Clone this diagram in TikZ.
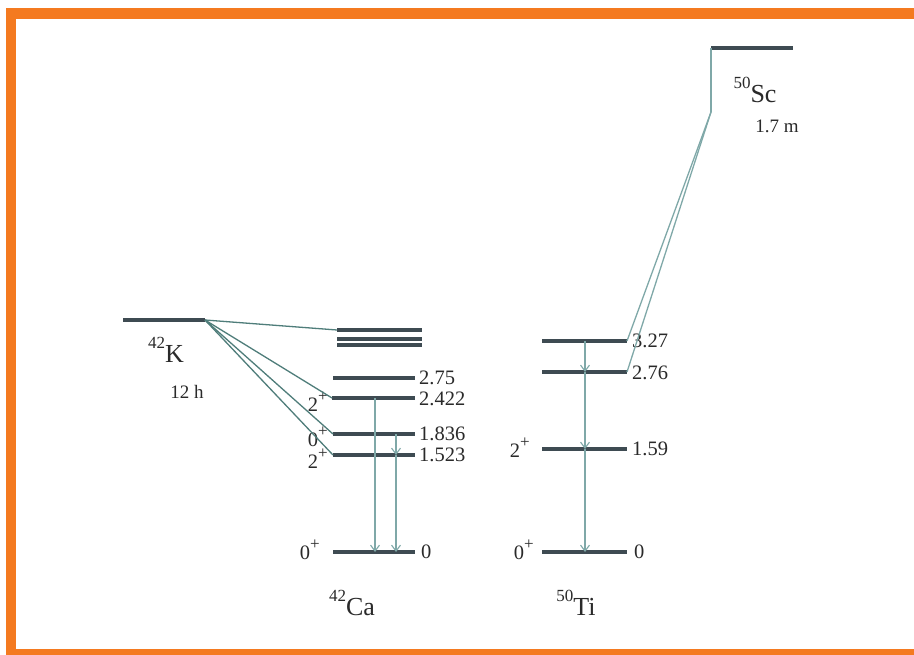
\documentclass[tikz,border=0pt]{standalone}
\usepackage{fontspec}
\setmainfont{Liberation Serif}
\usetikzlibrary{arrows.meta}
\definecolor{frame}{HTML}{F47A20}
\definecolor{lev}{HTML}{3E4B52}
\definecolor{gam}{HTML}{7FA8A8}
\definecolor{feed}{HTML}{4F7D7A}
\definecolor{ink}{HTML}{2A2A2A}
\newcommand{\sps}[1]{\raisebox{0.55em}{\fontsize{17}{17}\selectfont #1}}
\newcommand{\spp}{\raisebox{0.5em}{\fontsize{17}{17}\selectfont +}}
\tikzset{
  level/.style={draw=lev, line width=3.3pt},
  gamma/.style={draw=gam, line width=1.1pt, -{Straight Barb[length=6pt,width=9pt,line width=1.1pt]}},
  gline/.style={draw=gam, line width=1.1pt},
  feedline/.style={draw=feed, line width=1.3pt},
  elab/.style={anchor=west, text=ink, font=\fontsize{20.5}{20.5}\selectfont, inner sep=0pt},
  spin/.style={anchor=east, text=ink, font=\fontsize{20.5}{20.5}\selectfont, inner sep=0pt},
  nuc/.style={text=ink, font=\fontsize{26}{26}\selectfont, inner sep=0pt},
  life/.style={text=ink, font=\fontsize{19}{19}\selectfont, inner sep=0pt}
}
\begin{document}
\begin{tikzpicture}[x=1pt,y=-1pt]
\useasboundingbox (0,0) rectangle (914,655);
\fill[white] (0,0) rectangle (914,655);
% frame
\fill[frame] (6,8) rectangle (914,19);
\fill[frame] (6,8) rectangle (16,655);
\fill[frame] (6,649) rectangle (914,655);

% ---------- 42K ----------
\coordinate (kL) at (123,320);
\coordinate (kR) at (205,320);
\draw[level] (kL) -- (kR);
\node[nuc] (klab) at (166,350) {\sps{42}K};
\node[life] (kt) at (187,392) {12 h};

% ---------- 42Ca ----------
\coordinate (caA1L) at (337,330); \coordinate (caA1R) at (422,330);
\coordinate (caA2L) at (337,339); \coordinate (caA2R) at (422,339);
\coordinate (caA3L) at (337,345); \coordinate (caA3R) at (422,345);
\coordinate (ca275L) at (333,378); \coordinate (ca275R) at (415,378);
\coordinate (ca2422L) at (332,398); \coordinate (ca2422R) at (415,398);
\coordinate (ca1836L) at (333,434); \coordinate (ca1836R) at (415,434);
\coordinate (ca1523L) at (333,455); \coordinate (ca1523R) at (415,455);
\coordinate (ca0L) at (333,552); \coordinate (ca0R) at (415,552);
\foreach \a in {caA1,caA2,caA3,ca275,ca2422,ca1836,ca1523,ca0}
  \draw[level] (\a L) -- (\a R);

\node[elab] (e275) at (419,378) {2.75};
\node[elab] (e2422) at (419,399) {2.422};
\node[elab] (e1836) at (419,434) {1.836};
\node[elab] (e1523) at (419,455) {1.523};
\node[elab] (e0ca) at (421,552) {0};

\node[spin] (s2422) at (328,402) {2\spp};
\node[spin] (s1836) at (328,437) {0\spp};
\node[spin] (s1523) at (328,459) {2\spp};
\node[spin] (s0ca) at (320,550) {0\spp};

\node[nuc] (calab) at (352,603) {\sps{42}Ca};

% feeding from 42K
\draw[feedline] (kR) -- (caA1L);
\draw[feedline] (kR) -- (ca2422L);
\draw[feedline] (kR) -- (ca1836L);
\draw[feedline] (kR) -- (ca1523L);

% gammas in 42Ca
\coordinate (g1t) at (375,398); \coordinate (g1b) at (375,552);
\coordinate (g2t) at (396,434); \coordinate (g2m) at (396,455); \coordinate (g2b) at (396,552);
\draw[gamma] (g1t) -- (g1b);
\draw[gamma] (g2t) -- (g2m);
\draw[gamma] (g2m) -- (g2b);

% ---------- 50Ti ----------
\coordinate (ti327L) at (542,341); \coordinate (ti327R) at (627,341);
\coordinate (ti276L) at (542,372); \coordinate (ti276R) at (627,372);
\coordinate (ti159L) at (542,449); \coordinate (ti159R) at (627,449);
\coordinate (ti0L) at (542,552); \coordinate (ti0R) at (627,552);
\foreach \a in {ti327,ti276,ti159,ti0}
  \draw[level] (\a L) -- (\a R);

\node[elab] (e327) at (632,341) {3.27};
\node[elab] (e276) at (632,373) {2.76};
\node[elab] (e159) at (632,449) {1.59};
\node[elab] (e0ti) at (634,552) {0};

\node[spin] (s159) at (530,448) {2\spp};
\node[spin] (s0ti) at (534,550) {0\spp};

\node[nuc] (tilab) at (576,603) {\sps{50}Ti};

% gammas in 50Ti
\coordinate (t1) at (585,341); \coordinate (t2) at (585,372);
\coordinate (t3) at (585,449); \coordinate (t4) at (585,552);
\draw[gamma] (t1) -- (t2);
\draw[gamma] (t2) -- (t3);
\draw[gamma] (t3) -- (t4);

% ---------- 50Sc ----------
\coordinate (scL) at (711,48); \coordinate (scR) at (793,48);
\draw[level] (scL) -- (scR);
\coordinate (scB) at (711,112);
\draw[gline] (scL) -- (scB);
\draw[feedline, draw=gam] (scB) -- (ti327R);
\draw[feedline, draw=gam] (scB) -- (ti276R);
\node[nuc] (sclab) at (755,90) {\sps{50}Sc};
\node[life] (sct) at (777,126) {1.7 m};
\end{tikzpicture}
\end{document}
